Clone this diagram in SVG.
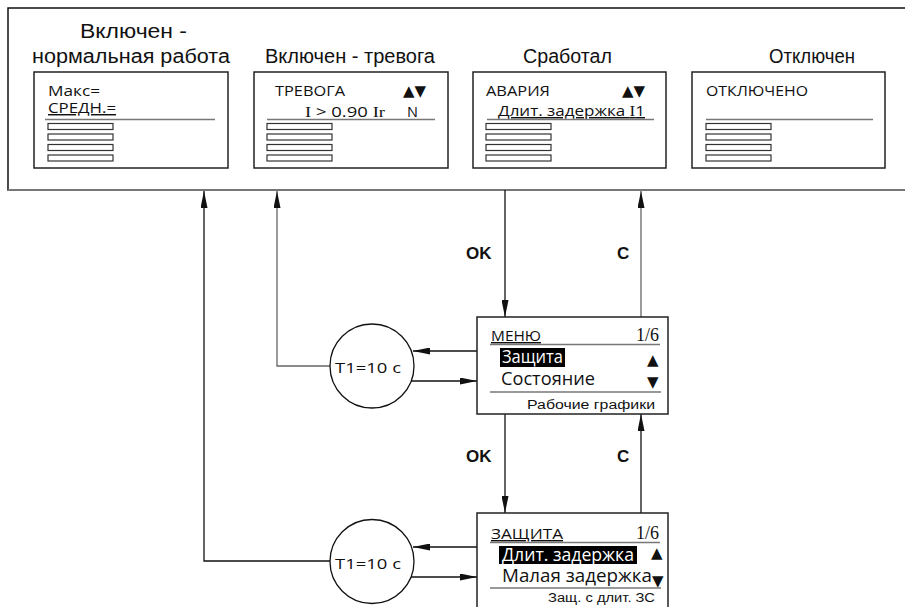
<svg xmlns="http://www.w3.org/2000/svg" width="905" height="607" viewBox="0 0 905 607">
<style>
.title{font-family:"Liberation Sans",Arial,sans-serif;font-size:20px;fill:#111}
.scr{font-family:"Open Sans","Noto Sans",sans-serif;font-size:14.5px;fill:#111}
.big{font-family:"Open Sans","Noto Sans",sans-serif;font-size:18px;fill:#111}
.inv{fill:#fff}
.ser{font-family:"Liberation Serif","Times New Roman",serif;font-size:18px;fill:#111}
.sf{font-family:"Liberation Serif","Times New Roman",serif}
.sm{font-family:"Liberation Sans",Arial,sans-serif;font-size:12.5px;fill:#111}
.lbl{font-family:"Liberation Sans",Arial,sans-serif;font-size:17px;font-weight:bold;fill:#111}
.tri{font-family:"DejaVu Sans",sans-serif;font-size:15px;fill:#111}
.box{fill:#fff;stroke:#222;stroke-width:1.5}
.bar{fill:#fff;stroke:#333;stroke-width:1.2}
.sep{stroke:#777;stroke-width:1.5}
.ul{text-decoration:underline}
.con{fill:none;stroke:#111;stroke-width:1.3}
.gr{stroke:#666}
</style>
<defs>
<marker id="ah" markerUnits="userSpaceOnUse" markerWidth="17" markerHeight="7" refX="17" refY="3.5" orient="auto">
<path d="M0,0 L17,3.5 L0,7 z" fill="#111"/>
</marker>
</defs>

<g id="panel">
<path d="M905,8 H8 V190 H905" fill="none" stroke="#111" stroke-width="1.5"/>
<line x1="8" y1="190" x2="905" y2="190" stroke="#777" stroke-width="2"/>
</g>

<g id="screen-normal">
<text class="title" x="80" y="38" textLength="107" lengthAdjust="spacingAndGlyphs">Включен -</text>
<text class="title" x="32" y="63" textLength="198" lengthAdjust="spacingAndGlyphs">нормальная работа</text>
<rect class="box" x="34" y="72" width="194" height="96"/>
<text class="scr" x="48" y="96" textLength="52" lengthAdjust="spacingAndGlyphs">Макс=</text>
<text class="scr ul" x="48" y="113" textLength="68" lengthAdjust="spacingAndGlyphs">СРЕДН.=</text>
<line class="sep" x1="45" y1="119.5" x2="215" y2="119.5"/>
<rect class="bar" x="48" y="123.5" width="65" height="6"/>
<rect class="bar" x="48" y="134" width="65" height="6"/>
<rect class="bar" x="48" y="144.5" width="65" height="6"/>
<rect class="bar" x="48" y="155" width="65" height="6"/>
</g>

<g id="screen-alarm">
<text class="title" x="265" y="63" textLength="170" lengthAdjust="spacingAndGlyphs">Включен - тревога</text>
<rect class="box" x="254" y="72" width="194" height="96"/>
<text class="scr" x="275" y="96" textLength="70" lengthAdjust="spacingAndGlyphs">ТРЕВОГА</text>
<text class="tri" x="403" y="96">▲▼</text>
<text class="scr" x="305" y="117" textLength="80" lengthAdjust="spacingAndGlyphs"><tspan class="sf">I</tspan> &gt; 0.90 <tspan class="sf">Ir</tspan></text>
<text class="scr" x="407" y="117">N</text>
<line class="sep" x1="267" y1="119.5" x2="435" y2="119.5"/>
<rect class="bar" x="267" y="123.5" width="65" height="6"/>
<rect class="bar" x="267" y="134" width="65" height="6"/>
<rect class="bar" x="267" y="144.5" width="65" height="6"/>
<rect class="bar" x="267" y="155" width="65" height="6"/>
</g>

<g id="screen-tripped">
<text class="title" x="523" y="63" textLength="89" lengthAdjust="spacingAndGlyphs">Сработал</text>
<rect class="box" x="473" y="72" width="193" height="96"/>
<text class="scr" x="486" y="96" textLength="64" lengthAdjust="spacingAndGlyphs">АВАРИЯ</text>
<text class="tri" x="622" y="96">▲▼</text>
<text class="scr ul" x="498" y="116" textLength="147" lengthAdjust="spacingAndGlyphs">Длит. задержка <tspan class="sf">I</tspan>1</text>
<line class="sep" x1="487" y1="119.5" x2="654" y2="119.5"/>
<rect class="bar" x="486" y="123.5" width="65" height="6"/>
<rect class="bar" x="486" y="134" width="65" height="6"/>
<rect class="bar" x="486" y="144.5" width="65" height="6"/>
<rect class="bar" x="486" y="155" width="65" height="6"/>
</g>

<g id="screen-off">
<text class="title" x="812" y="63" text-anchor="middle" textLength="86" lengthAdjust="spacingAndGlyphs">Отключен</text>
<rect class="box" x="692" y="72" width="193" height="96"/>
<text class="scr" x="706" y="96" textLength="102" lengthAdjust="spacingAndGlyphs">ОТКЛЮЧЕНО</text>
<line class="sep" x1="706" y1="119.5" x2="873" y2="119.5"/>
<rect class="bar" x="706" y="123.5" width="65" height="6"/>
<rect class="bar" x="706" y="134" width="65" height="6"/>
<rect class="bar" x="706" y="144.5" width="65" height="6"/>
<rect class="bar" x="706" y="155" width="65" height="6"/>
</g>

<g id="connectors">
<path class="con" d="M330,561 H204 V191" marker-end="url(#ah)"/>
<path class="con gr" d="M330,366 H277 V191" marker-end="url(#ah)"/>
<path class="con" d="M505,190 V317" marker-end="url(#ah)"/>
<path class="con gr" d="M641,317 V191" marker-end="url(#ah)"/>
<path class="con" d="M477,351 H413" marker-end="url(#ah)"/>
<path class="con" d="M410,381 H477" marker-end="url(#ah)"/>
<path class="con" d="M505,414 V513" marker-end="url(#ah)"/>
<path class="con" d="M641,513 V414" marker-end="url(#ah)"/>
<path class="con" d="M477,547 H413" marker-end="url(#ah)"/>
<path class="con" d="M410,577 H477" marker-end="url(#ah)"/>
<text class="lbl" x="466" y="259">OK</text>
<text class="lbl" x="617" y="259">C</text>
<text class="lbl" x="466" y="462">OK</text>
<text class="lbl" x="617" y="462">C</text>
</g>

<g id="timer1">
<circle cx="372" cy="366" r="42" fill="#fff" stroke="#111" stroke-width="1.3"/>
<text class="scr" x="335" y="373" font-size="17" textLength="66" lengthAdjust="spacingAndGlyphs">T1=10 c</text>
</g>

<g id="timer2">
<circle cx="372" cy="561.5" r="42" fill="#fff" stroke="#111" stroke-width="1.3"/>
<text class="scr" x="335" y="569" font-size="17" textLength="66" lengthAdjust="spacingAndGlyphs">T1=10 c</text>
</g>

<g id="menu">
<rect class="box" x="477" y="317" width="191" height="97"/>
<text class="scr ul" x="491" y="341" textLength="50" lengthAdjust="spacingAndGlyphs">МЕНЮ</text>
<text class="ser" x="636" y="341">1/6</text>
<line class="sep" x1="490" y1="344.5" x2="660" y2="344.5"/>
<rect x="500" y="348" width="65" height="19" fill="#000"/>
<text class="big inv" x="502" y="363" textLength="61" lengthAdjust="spacingAndGlyphs">Защита</text>
<text class="tri" x="647" y="365">▲</text>
<text class="big" x="501" y="385" textLength="94" lengthAdjust="spacingAndGlyphs">Состояние</text>
<text class="tri" x="647" y="387">▼</text>
<line class="sep" x1="490" y1="392" x2="661" y2="392"/>
<text class="sm" x="527" y="409" textLength="128" lengthAdjust="spacingAndGlyphs">Рабочие графики</text>
</g>

<g id="protection">
<rect class="box" x="477" y="513" width="191" height="110"/>
<text class="scr ul" x="491" y="539" textLength="72" lengthAdjust="spacingAndGlyphs">ЗАЩИТА</text>
<text class="ser" x="636" y="539">1/6</text>
<line class="sep" x1="490" y1="542.5" x2="660" y2="542.5"/>
<rect x="499" y="546" width="138" height="18" fill="#000"/>
<text class="big inv" x="502" y="561" textLength="132" lengthAdjust="spacingAndGlyphs">Длит. задержка</text>
<text class="tri" x="651" y="558">▲</text>
<text class="big" x="502" y="582" textLength="150" lengthAdjust="spacingAndGlyphs">Малая задержка</text>
<text class="tri" x="652" y="586">▼</text>
<line class="sep" x1="490" y1="588" x2="661" y2="588"/>
<text class="sm" x="548" y="602" textLength="107" lengthAdjust="spacingAndGlyphs">Защ. с длит. ЗС</text>
</g>
</svg>
